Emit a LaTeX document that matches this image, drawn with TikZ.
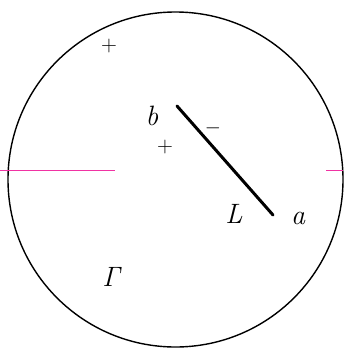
\documentclass[tikz,border=0pt]{standalone}
\usepackage{fontspec}
\usetikzlibrary{positioning}

\begin{document}
\begin{tikzpicture}[
        x=1pt, y=-1pt,
        contour/.style={draw, line width=1.4pt},
        cut/.style={draw, line width=3pt, line cap=round},
        lbl/.style={inner sep=0pt, font=\fontsize{28}{32}\selectfont\itshape},
        sign/.style={inner sep=0pt, font=\fontsize{22}{26}\selectfont},
        scan/.style={draw=magenta!80, line width=0.8pt}
    ]
    \useasboundingbox (0,0) rectangle (343,351);

    % Contour Gamma and the cut L
    \coordinate (centre) at (175.5,179.5);
    \draw [contour] (centre) circle [radius=167.5];
    \coordinate (end_b) at (177,106);
    \coordinate (end_a) at (273,215);
    \draw [cut] (end_b) -- (end_a);

    % Labels
    \node (b) [lbl] at (152,116) {b};
    \node (a) [lbl] at (298,218) {a};
    \node (L) [lbl] at (234,214) {L};
    \node (Gamma) [lbl] at (111,277) {Γ};
    \node (plus_out) [sign] at (109,46) {+};
    \node (plus_in) [sign] at (165,147) {+};
    \node (minus) [sign] at (213,128) {$-$};

    % Scan marks
    \coordinate (mark_l1) at (0,170);
    \coordinate (mark_l2) at (115,170);
    \coordinate (mark_r1) at (326,170);
    \coordinate (mark_r2) at (343,170);
    \draw [scan] (mark_l1) -- (mark_l2);
    \draw [scan] (mark_r1) -- (mark_r2);

\end{tikzpicture}
\end{document}
